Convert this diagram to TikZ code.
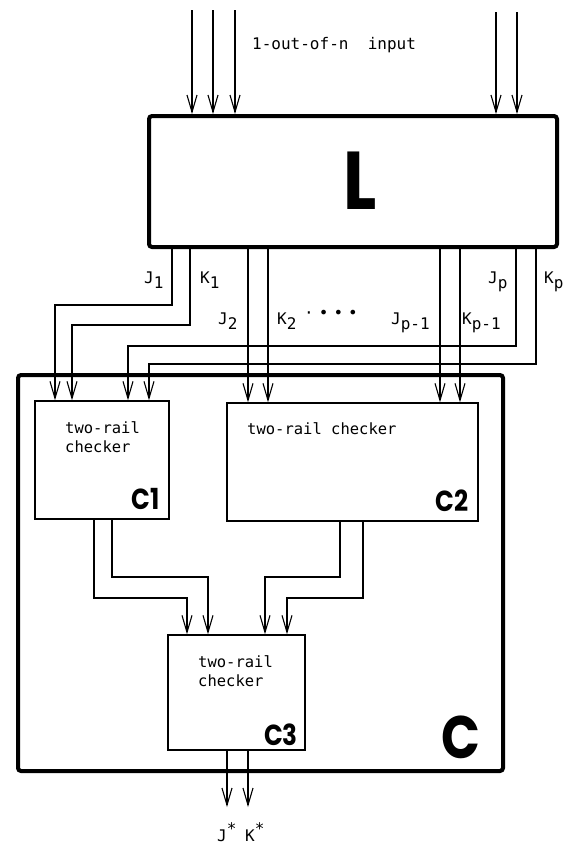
\documentclass[tikz,border=0pt]{standalone}
\usepackage{fontspec}
\newfontfamily\monof{DejaVu Sans Mono}
\newfontfamily\boldf{Poppins}
\usetikzlibrary{arrows.meta}
\newcommand\lowsub[1]{\raisebox{-5pt}{#1}}
\newcommand\upstar{\raisebox{7pt}{*}}
\tikzset{
  wire/.style={line width=1.1pt},
  arr/.style={wire, -{Straight Barb[length=17pt,width=10pt,line width=1.1pt]}},
  thickbox/.style={draw, line width=4pt, rounded corners=3pt, inner sep=0pt},
  thinbox/.style={draw, line width=1.4pt, inner sep=0pt},
  mono/.style={font=\monof\fontsize{15.5}{19}\selectfont, inner sep=0pt},
  lab/.style={font=\monof\fontsize{16}{19}\selectfont, inner sep=0pt, anchor=base west},
  big/.style={font=\boldf\bfseries\fontsize{#1}{#1}\selectfont, inner sep=0pt, anchor=base east},
}
\begin{document}
\begin{tikzpicture}[x=1pt,y=-1pt]
\useasboundingbox (0,0) rectangle (564,846);
% boxes
\node[thickbox, minimum width=408pt, minimum height=131pt] (L) at (353,181.5) {};
\node[thickbox, minimum width=485pt, minimum height=396pt] (C) at (260.5,573) {};
\node[thinbox, minimum width=134pt, minimum height=118pt] (C1) at (102,460) {};
\node[thinbox, minimum width=251pt, minimum height=118pt] (C2) at (352.5,462) {};
\node[thinbox, minimum width=137pt, minimum height=115pt] (C3) at (236.5,692.5) {};
% big labels
\node[big=82] (Llab) at (377,209) {\scalebox{0.85}[1]{L}};
\node[big=60] (Clab) at (481,758) {\scalebox{0.85}[1]{C}};
\node[big=29] (C1lab) at (160,509) {\scalebox{0.85}[1]{C1}};
\node[big=29] (C2lab) at (469,511) {\scalebox{0.85}[1]{C2}};
\node[big=29] (C3lab) at (298,745) {\scalebox{0.85}[1]{C3}};
% texts
\node[font=\monof\fontsize{16}{19}\selectfont, inner sep=0pt, anchor=base west] (intext) at (252,49) {1-out-of-n\ \ input};
\node[mono, anchor=base west] (c1a) at (65,433) {two-rail};
\node[mono, anchor=base west] (c1b) at (65,452) {checker};
\node[mono, anchor=base west] (c2a) at (247,434) {two-rail checker};
\node[mono, anchor=base west] (c3a) at (198,667) {two-rail};
\node[mono, anchor=base west] (c3b) at (198,686) {checker};
% input arrows
\foreach \x/\y [count=\i] in {192/10,213/10,235/10,496/12,517/12}{
  \coordinate (in\i) at (\x,\y);
  \draw[arr] (in\i) -- (in\i |- L.north);
}
% L to C1 (bent)
\coordinate (bj1) at (172,305); \coordinate (ej1) at (55,305);
\coordinate (bk1) at (190,325); \coordinate (ek1) at (72,325);
\coordinate (bjp) at (516,346); \coordinate (ejp) at (128,346);
\coordinate (bkp) at (536,364); \coordinate (ekp) at (149,364);
\draw[arr] (bj1 |- L.south) -- (bj1) -- (ej1) -- (ej1 |- C1.north);
\draw[arr] (bk1 |- L.south) -- (bk1) -- (ek1) -- (ek1 |- C1.north);
\draw[arr] (bjp |- L.south) -- (bjp) -- (ejp) -- (ejp |- C1.north);
\draw[arr] (bkp |- L.south) -- (bkp) -- (ekp) -- (ekp |- C1.north);
% L to C2 (straight)
\foreach \x [count=\i] in {248,268,440,460}{
  \coordinate (s\i) at (\x,300);
  \draw[arr] (s\i |- L.south) -- (s\i |- C2.north);
}
% signal labels
\node[lab] (lj1) at (144,283) {J\lowsub{1}};
\node[lab] (lk1) at (200,283) {K\lowsub{1}};
\node[lab] (lj2) at (218,324) {J\lowsub{2}};
\node[lab] (lk2) at (277,324) {K\lowsub{2}};
\node[font=\monof\fontsize{16}{19}\selectfont, inner sep=0pt] (dots) at (331,314) {·\hspace{5pt}•\hspace{5pt}•\hspace{5pt}•};
\node[lab] (ljq) at (391,324) {J\lowsub{p-1}};
\node[lab] (lkq) at (462,324) {K\lowsub{p-1}};
\node[lab] (ljp) at (488,283) {J\lowsub{p}};
\node[lab] (lkp) at (544,283) {K\lowsub{p}};
% C1, C2 to C3
\coordinate (a1) at (94,598);  \coordinate (a2) at (187,598);
\coordinate (b1) at (112,577); \coordinate (b2) at (208,577);
\coordinate (c1) at (340,577); \coordinate (c2) at (265,577);
\coordinate (d1) at (363,598); \coordinate (d2) at (287,598);
\draw[arr] (a1 |- C1.south) -- (a1) -- (a2) -- (a2 |- C3.north);
\draw[arr] (b1 |- C1.south) -- (b1) -- (b2) -- (b2 |- C3.north);
\draw[arr] (c1 |- C2.south) -- (c1) -- (c2) -- (c2 |- C3.north);
\draw[arr] (d1 |- C2.south) -- (d1) -- (d2) -- (d2 |- C3.north);
% outputs
\coordinate (oj) at (227,807); \coordinate (ok) at (248,807);
\draw[arr] (oj |- C3.south) -- (oj);
\draw[arr] (ok |- C3.south) -- (ok);
\node[lab] (ljs) at (217,841) {J\upstar};
\node[lab] (lks) at (245,841) {K\upstar};
\end{tikzpicture}
\end{document}
